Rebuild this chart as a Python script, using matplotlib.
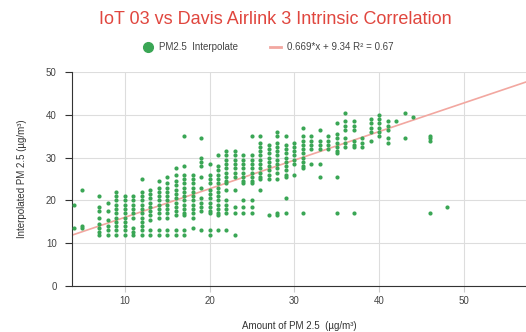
import matplotlib
matplotlib.use("Agg")
import matplotlib.pyplot as plt
from matplotlib.lines import Line2D

plt.rcParams['font.family'] = ['Liberation Sans', 'DejaVu Sans']

title = "IoT 03 vs Davis Airlink 3 Intrinsic Correlation"
series_label = "PM2.5  Interpolate"
trend_label = "0.669*x + 9.34 R\u00b2 = 0.67"
x_label = "Amount of PM 2.5  (\u00b5g/m\u00b3)"
y_label = "Interpolated PM 2.5 (\u00b5g/m\u00b3)"
slope = 0.669
intercept = 9.34
x_ticks = [10, 20, 30, 40, 50]
y_ticks = [0, 10, 20, 30, 40, 50]

columns = [
    (4, [19, 13.5]),
    (5, [22.5, 14, 13.5]),
    (7, [21, 18.5, 17.5, 16, 14.5, 13.5, 12.5, 12]),
    (8, [19.5, 17.5, 15.5, 14, 13, 12]),
    (9, [22, 21, 20, 19, 18, 17, 16, 15, 14, 13, 12]),
    (10, [21, 20, 19, 18, 17, 16, 15, 14, 13, 12]),
    (11, [21, 20, 19, 18, 17, 16, 13.5, 12.5, 12]),
    (12, [25, 22, 21, 20, 19, 18, 17, 16, 15, 14, 13, 12]),
    (13, [22.5, 21.5, 20.5, 19.5, 18.5, 17.5, 16.5, 15.5, 13, 12]),
    (14, [24.5, 23, 22, 21, 20, 19, 18, 17, 16, 13, 12]),
    (15, [25.5, 24, 23, 22, 21, 20, 19, 18, 17, 16, 13, 12]),
    (16, [27.5, 26, 24.5, 23.5, 22.5, 21.5, 20.5, 19.5, 18.5, 17.5, 16.5, 13, 12]),
    (17, [35, 28, 26, 25, 24, 23, 22, 21, 20, 19, 18, 17, 16.5, 13, 12]),
    (18, [26, 25, 24, 23, 22, 21, 20, 19, 18, 17, 16, 13.5]),
    (19, [34.5, 30, 29, 28, 25.5, 23, 20.5, 19.5, 18.5, 17.5, 13]),
    (20, [28.5, 26, 25, 24, 22.5, 21.5, 20.5, 19.5, 18.5, 17.5, 17, 13, 12]),
    (21, [30.5, 28, 27, 26, 25, 24, 23, 22, 21, 20, 19, 18, 17, 16.5, 13]),
    (22, [31.5, 30.5, 29.5, 28.5, 27.5, 26.5, 25.5, 24.5, 24, 22.5, 20, 19, 18, 17, 13]),
    (23, [31.5, 30.5, 29.5, 28.5, 27.5, 26.5, 25.5, 22.5, 18.5, 17, 12]),
    (24, [30.5, 29.5, 28.5, 27.5, 26.5, 25.5, 24.5, 24, 20, 18.5, 17]),
    (25, [35, 30.5, 29.5, 28.5, 27.5, 26.5, 25.5, 24.5, 24, 20, 18.5, 17]),
    (26, [35, 33.5, 32.5, 31.5, 30.5, 29.5, 28.5, 27.5, 26.5, 25.5, 25, 22.5]),
    (27, [33, 32, 31, 30, 29, 28, 27, 26, 25, 16.5]),
    (28, [36, 35, 33.5, 32.5, 31.5, 30.5, 29.5, 28.5, 27.5, 26.5, 25, 17, 16.5]),
    (29, [35, 33, 32, 31, 30, 29, 28, 27, 26, 25.5, 20.5, 17]),
    (30, [33.5, 32.5, 31.5, 30.5, 29.5, 28.5, 26]),
    (31, [37, 35, 34, 33, 32, 31, 30, 29, 28, 27.5, 17]),
    (32, [35, 34, 33, 32, 28.5]),
    (33, [36.5, 34, 33, 32, 28.5, 25.5]),
    (34, [35, 34, 33, 32]),
    (35, [38, 35.5, 34.5, 33.5, 32.5, 31.5, 31, 25.5, 17]),
    (36, [40.5, 38.5, 37.5, 36.5, 34.5, 33.5, 32.5]),
    (37, [38.5, 37.5, 36.5, 34, 33, 32.5, 17]),
    (38, [34.5, 33.5, 32.5]),
    (39, [39, 38, 37, 36, 34]),
    (40, [40, 39, 38, 37, 36, 35]),
    (41, [38.5, 37.5, 36.5, 34.5, 33.5]),
    (42, [38.5]),
    (43, [40.5, 34.5]),
    (44, [39.5]),
    (46, [35, 34.5, 34, 17]),
    (48, [18.5]),
]

xs = [c for c, ys in columns for _ in ys]
ys_all = [y for c, ys in columns for y in ys]

green = "#3aa655"
pink = "#f2a7a0"
xlim = (3.8, 57.3)

fig = plt.figure(figsize=(5.26, 3.32), dpi=100)
ax = fig.add_axes([0.137, 0.1386, 0.863, 0.6444])
ax.set_xlim(*xlim)
ax.set_ylim(0, 50)

ax.plot(list(xlim), [slope * xlim[0] + intercept, slope * xlim[1] + intercept],
        color=pink, lw=1.2, zorder=2)
ax.scatter(xs, ys_all, s=9, color=green, zorder=3, linewidths=0)

ax.set_xticks(x_ticks)
ax.set_yticks(y_ticks)
ax.grid(True, color="#dddddd", lw=0.8)
ax.set_axisbelow(True)
for s in ["top", "right"]:
    ax.spines[s].set_visible(False)
ax.spines["left"].set_color("#333333")
ax.spines["bottom"].set_color("#333333")
ax.tick_params(axis="y", length=5, color="#333333", labelsize=7, labelcolor="#444444", pad=6)
ax.tick_params(axis="x", length=4, color="#cccccc", labelsize=7, labelcolor="#444444", pad=3)

ax.set_xlabel(x_label, fontsize=7, color="#333333", labelpad=11)
ax.set_ylabel(y_label, fontsize=7, color="#333333", labelpad=14)

fig.text(0.523, 0.94, title, ha="center", va="center", fontsize=13, color="#e0463e")

handles = [
    Line2D([], [], marker="o", linestyle="none", color=green, markersize=7),
    Line2D([], [], color=pink, lw=2),
]
fig.legend(handles, [series_label, trend_label], loc="center", bbox_to_anchor=(0.509, 0.858),
           ncol=2, frameon=False, fontsize=7, labelcolor="#444444",
           handlelength=1.2, handletextpad=0.6, columnspacing=3.2)

fig.savefig("out.png", dpi=100)
